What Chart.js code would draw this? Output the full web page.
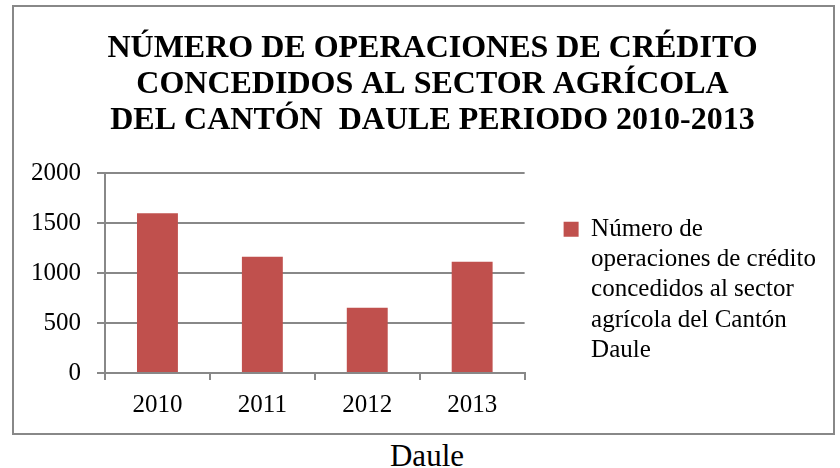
<!DOCTYPE html>
<html>
<head>
<meta charset="utf-8">
<script src="https://cdn.jsdelivr.net/npm/chart.js@4/dist/chart.umd.min.js"></script>
<style>
  body { margin: 0; background: #fff; }
  #box {
    position: absolute; left: 12px; top: 5px;
    width: 823px; height: 430px;
    box-sizing: border-box; border: 2px solid #888;
  }
  #caption {
    position: absolute; left: 0; top: 441px; width: 854px;
    text-align: center; font: 31px "Liberation Serif", "Times New Roman", serif;
    line-height: 30px; color: #000;
  }
</style>
</head>
<body>
<div id="box"><canvas id="bar-chart" width="819" height="426"></canvas></div>
<div id="caption">Daule</div>
<script>
const years = ["2010", "2011", "2012", "2013"];
const operaciones = [1600, 1165, 655, 1115];
const yTicks = [0, 500, 1000, 1500, 2000];
const titleLines = [
    "NÚMERO DE OPERACIONES DE CRÉDITO",
    "CONCEDIDOS AL SECTOR AGRÍCOLA",
    "DEL CANTÓN  DAULE PERIODO 2010-2013"
];
const legendLines = [
    "Número de",
    "operaciones de crédito",
    "concedidos al sector",
    "agrícola del Cantón",
    "Daule"
];

Chart.defaults.font.family = "'Liberation Serif', 'Times New Roman', serif";
Chart.defaults.color = '#000';

const gris = '#888';

// el titulo va un poco a la derecha, como en el original
const correrTitulo = {
    id: 'correrTitulo',
    afterLayout: function (chart) {
        chart.titleBlock.left += 24;
    }
};

new Chart(document.getElementById("bar-chart"), {
    type: 'bar',
    data: {
        labels: years,
        datasets: [
            {
                label: legendLines.join(' '),
                backgroundColor: '#C0504D',
                data: operaciones,
                categoryPercentage: 1,
                barPercentage: 0.39
            }
        ]
    },
    options: {
        responsive: false,
        animation: false,
        layout: {padding: {left: 1, right: 7, top: 0, bottom: 3}},
        plugins: {
            title: {
                display: true,
                text: titleLines,
                font: {size: 32, weight: 'bold', lineHeight: 1.14},
                padding: {top: 23, bottom: 34}
            },
            legend: {
                position: 'right',
                align: 'end',
                fullSize: false,
                maxWidth: 300,
                labels: {
                    boxWidth: 15,
                    boxHeight: 15,
                    padding: 5,
                    font: {size: 25, lineHeight: 1.21},
                    generateLabels: function (chart) {
                        const ds = chart.data.datasets[0];
                        return [{
                            text: legendLines,
                            fillStyle: ds.backgroundColor,
                            strokeStyle: ds.backgroundColor,
                            lineWidth: 0,
                            datasetIndex: 0
                        }];
                    }
                }
            },
            tooltip: {enabled: false}
        },
        scales: {
            x: {
                grid: {display: true, drawOnChartArea: false, offset: true, tickLength: 7, color: gris, lineWidth: 2},
                border: {color: gris, width: 2},
                ticks: {font: {size: 25, lineHeight: 1.2}, padding: 10}
            },
            y: {
                min: 0,
                max: 2000,
                afterBuildTicks: function (scale) {
                    scale.ticks = yTicks.map(v => ({value: v}));
                },
                grid: {tickLength: 8, color: gris, lineWidth: 2},
                border: {color: gris, width: 2},
                ticks: {
                    font: {size: 25, lineHeight: 1.2},
                    padding: 16,
                    callback: v => String(v)
                }
            },
            hueco: {
                type: 'linear',
                position: 'right',
                grid: {display: false},
                border: {display: false},
                ticks: {display: false},
                afterFit: function (scale) { scale.width = 34; }
            }
        }
    },
    plugins: [correrTitulo]
});
</script>
</body>
</html>
